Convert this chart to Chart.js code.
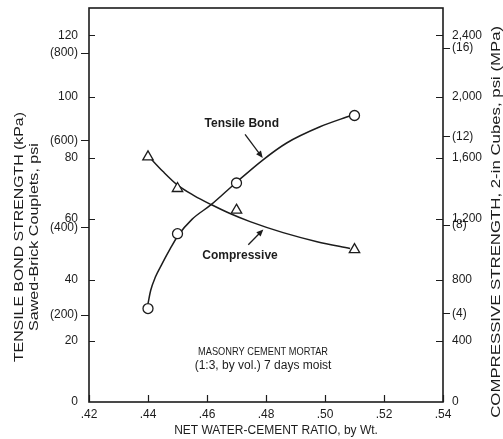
<!DOCTYPE html>
<html lang="en">
<head>
<meta charset="UTF-8" />
<title>Tensile Bond and Compressive Strength vs Water-Cement Ratio</title>
<script src="https://cdn.jsdelivr.net/npm/chart.js@4"></script>
<style>
  body { margin: 0; background: #fff; }
  canvas { display: block; }
</style>
</head>
<body>
<canvas id="chart" width="503" height="439"></canvas>
<script>
// ==== DATA ====
const ratioTicks = [0.42, 0.44, 0.46, 0.48, 0.50, 0.52, 0.54];
const bondTicksPsi = [0, 20, 40, 60, 80, 100, 120];
const bondTicksKpa = [200, 400, 600, 800];
const compTicksPsi = [0, 400, 800, 1200, 1600, 2000, 2400];
const compTicksMpa = [4, 8, 12, 16];

// measured test points
const testRatios = [0.44, 0.45, 0.47, 0.51];
const bondPsi = [30.6, 55.1, 71.7, 93.8];
const compPsi = [1605, 1398, 1256, 998];

// hand-fitted curves as drawn on the figure
const bondCurveRatio = [0.4400, 0.4409, 0.4425, 0.4448, 0.4475, 0.4502, 0.4549, 0.4614, 0.4698, 0.4790, 0.4870, 0.4983, 0.5088];
const bondCurvePsi   = [32.2,   36.5,   40.9,   45.3,   50.1,   54.5,   59.8,   64.6,   71.8,   79.3,   84.8,   90.1,   93.8];
const compCurveRatio = [0.4403, 0.4451, 0.4498, 0.4556, 0.4614, 0.4678, 0.4746, 0.4858, 0.4973, 0.5085];
const compCurvePsi   = [1607,   1509,   1424,   1352,   1293,   1234,   1181,   1109,   1050,   1005];

// ==== SETTINGS ====
const INK = '#1c1c1c';
const FONT = "'Liberation Sans', Arial, sans-serif";
const KPA_PER_PSI = 7.0;   // spacing of the (kPa) marks as printed
const PSI_PER_MPA = 145;
const BOND_MAX = 129;      // psi at top of frame
const COMP_MAX = BOND_MAX * 20;

const pairs = (xs, ys) => xs.map((v, i) => ({ x: v, y: ys[i] }));

// main ticks + parenthesised secondary-unit ticks on one axis
function mixedTicks(main, alt, toBase, fmt) {
  const list = main.map(v => ({ value: v, alt: false, text: fmt(v) }));
  alt.forEach(v => list.push({ value: toBase(v), alt: true, text: '(' + v + ')' }));
  return list.sort((a, b) => a.value - b.value);
}

// ==== ANNOTATIONS (placed in data units of the left axis) ====
const notes = [
  { text: 'Tensile Bond', bold: true, x: 0.4718, y: 91.2 },
  { text: 'Compressive', bold: true, x: 0.4712, y: 47.9 },
  { text: 'MASONRY CEMENT MORTAR', x: 0.4790, y: 16.5, size: 11.5, maxW: 130 },
  { text: '(1:3, by vol.) 7 days moist', x: 0.4790, y: 11.9 }
];
const arrows = [
  { from: [0.4729, 87.6], to: [0.4789, 79.9] },
  { from: [0.4740, 51.5], to: [0.4791, 56.5] }
];

// vertical titles: [text, x pixel, centre value on its axis, printed length]
const leftTitles = [
  ['TENSILE BOND STRENGTH (kPa)', 20, 54, 250],
  ['Sawed-Brick Couplets, psi', 35, 54, 188]
];
const rightTitle = ['COMPRESSIVE STRENGTH, 2-in Cubes, psi (MPa)', 497, 1180, 392];

function drawVertical(ctx, text, tx, ty, len) {
  ctx.save();
  ctx.translate(tx, ty);
  ctx.rotate(-Math.PI / 2);
  ctx.scale(len / ctx.measureText(text).width, 1);
  ctx.fillText(text, 0, 0);
  ctx.restore();
}

const decorPlugin = {
  id: 'decor',
  afterDatasetsDraw(chart) {
    const { ctx, chartArea: a, scales: { x, y, yr } } = chart;
    ctx.save();
    ctx.strokeStyle = INK;
    ctx.fillStyle = INK;

    // frame
    ctx.lineWidth = 1.6;
    ctx.strokeRect(a.left, a.top, a.right - a.left, a.bottom - a.top);

    // tick marks: main units point inward, bracketed units outward
    ctx.lineWidth = 1.2;
    ctx.beginPath();
    x.ticks.forEach(t => {
      const px = Math.round(x.getPixelForValue(t.value)) + 0.5;
      ctx.moveTo(px, a.bottom); ctx.lineTo(px, a.bottom - 7);
    });
    y.ticks.forEach(t => {
      const py = Math.round(y.getPixelForValue(t.value)) + 0.5;
      if (t.alt) { ctx.moveTo(a.left - 8, py); ctx.lineTo(a.left, py); }
      else if (t.value > 0) { ctx.moveTo(a.left, py); ctx.lineTo(a.left + 6, py); }
    });
    yr.ticks.forEach(t => {
      const py = Math.round(yr.getPixelForValue(t.value)) + 0.5;
      if (t.alt) { ctx.moveTo(a.right, py); ctx.lineTo(a.right + 7, py); }
      else if (t.value > 0) { ctx.moveTo(a.right - 7, py); ctx.lineTo(a.right, py); }
    });
    ctx.stroke();

    // notes
    ctx.textAlign = 'center';
    ctx.textBaseline = 'middle';
    notes.forEach(n => {
      ctx.font = (n.bold ? 'bold ' : '') + (n.size || 12) + 'px ' + FONT;
      const px = x.getPixelForValue(n.x), py = y.getPixelForValue(n.y);
      if (n.maxW) ctx.fillText(n.text, px, py, n.maxW);
      else ctx.fillText(n.text, px, py);
    });

    // arrows
    arrows.forEach(ar => {
      const x0 = x.getPixelForValue(ar.from[0]), y0 = y.getPixelForValue(ar.from[1]);
      const x1 = x.getPixelForValue(ar.to[0]), y1 = y.getPixelForValue(ar.to[1]);
      const ang = Math.atan2(y1 - y0, x1 - x0);
      const c = Math.cos(ang), s = Math.sin(ang);
      ctx.lineWidth = 1.3;
      ctx.beginPath(); ctx.moveTo(x0, y0); ctx.lineTo(x1 - 4 * c, y1 - 4 * s); ctx.stroke();
      ctx.beginPath();
      ctx.moveTo(x1, y1);
      ctx.lineTo(x1 - 7 * c + 3 * s, y1 - 7 * s - 3 * c);
      ctx.lineTo(x1 - 7 * c - 3 * s, y1 - 7 * s + 3 * c);
      ctx.closePath(); ctx.fill();
    });

    // axis titles
    ctx.font = '12px ' + FONT;
    leftTitles.forEach(([txt, tx, v, len]) => drawVertical(ctx, txt, tx, y.getPixelForValue(v), len));
    drawVertical(ctx, rightTitle[0], rightTitle[1], yr.getPixelForValue(rightTitle[2]), rightTitle[3]);
    ctx.fillText('NET WATER-CEMENT RATIO, by Wt.', x.getPixelForValue(0.4834), 431);

    ctx.restore();
  }
};

const tickFont = { family: FONT, size: 12 };
// keep the frame where the printed one is: no label overhang padding on vertical axes
const noOverhang = s => { s.paddingTop = 0; s.paddingBottom = 0; };

new Chart(document.getElementById('chart'), {
  type: 'line',
  data: {
    datasets: [
      {
        label: 'Tensile Bond',
        data: pairs(testRatios, bondPsi),
        yAxisID: 'y',
        showLine: false,
        pointStyle: 'circle', pointRadius: 5,
        pointBackgroundColor: '#fff', pointBorderColor: INK, pointBorderWidth: 1.3
      },
      {
        label: 'Compressive',
        data: pairs(testRatios, compPsi),
        yAxisID: 'yr',
        showLine: false,
        pointStyle: 'triangle', pointRadius: 6,
        pointBackgroundColor: '#fff', pointBorderColor: INK, pointBorderWidth: 1.3
      },
      {
        label: 'Tensile Bond curve',
        data: pairs(bondCurveRatio, bondCurvePsi),
        yAxisID: 'y',
        borderColor: INK, borderWidth: 1.5,
        pointRadius: 0, cubicInterpolationMode: 'monotone', fill: false
      },
      {
        label: 'Compressive curve',
        data: pairs(compCurveRatio, compCurvePsi),
        yAxisID: 'yr',
        borderColor: INK, borderWidth: 1.5,
        pointRadius: 0, cubicInterpolationMode: 'monotone', fill: false
      }
    ]
  },
  options: {
    responsive: false,
    animation: false,
    layout: { padding: { top: 8 } },
    plugins: { legend: { display: false }, tooltip: { enabled: false } },
    scales: {
      x: {
        type: 'linear', position: 'bottom', min: 0.42, max: 0.54,
        afterBuildTicks: s => { s.ticks = ratioTicks.map(v => ({ value: v })); },
        afterFit: s => { s.height = 37; },
        grid: { display: false, drawTicks: false },
        border: { display: false },
        ticks: {
          padding: 5, color: INK, font: tickFont, autoSkip: false, maxRotation: 0,
          callback: v => v.toFixed(2).replace(/^0/, '')
        }
      },
      y: {
        type: 'linear', position: 'left', min: 0, max: BOND_MAX,
        afterBuildTicks: s => {
          s.ticks = mixedTicks(bondTicksPsi, bondTicksKpa, v => v / KPA_PER_PSI, v => String(v));
        },
        afterFit: s => { s.width = 89; noOverhang(s); },
        grid: { display: false, drawTicks: false },
        border: { display: false },
        ticks: { padding: 11, color: INK, font: tickFont, autoSkip: false, callback: (v, i, t) => t[i].text }
      },
      yr: {
        type: 'linear', position: 'right', min: 0, max: COMP_MAX,
        afterBuildTicks: s => {
          s.ticks = mixedTicks(compTicksPsi, compTicksMpa, v => v * PSI_PER_MPA, v => v.toLocaleString('en-US'));
        },
        afterFit: s => { s.width = 60; noOverhang(s); },
        grid: { display: false, drawTicks: false },
        border: { display: false },
        ticks: { padding: 9, color: INK, font: tickFont, autoSkip: false, callback: (v, i, t) => t[i].text }
      }
    }
  },
  plugins: [decorPlugin]
});
</script>
</body>
</html>
